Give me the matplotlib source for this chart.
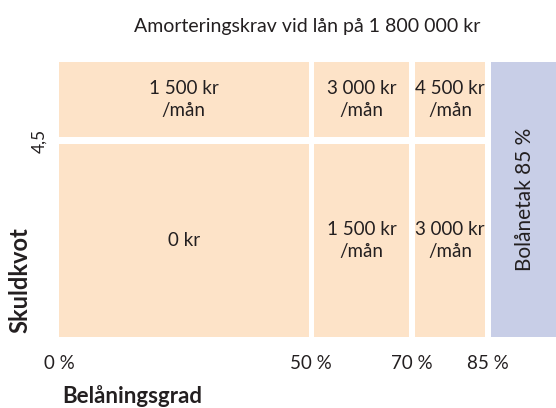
import matplotlib
matplotlib.use("Agg")
from matplotlib import pyplot as plt
from matplotlib.patches import Rectangle

plt.rcParams['font.family'] = ['Lato', 'DejaVu Sans']

# belåningsgrad-gränser (%) och skuldkvotsgräns
ltv_edges = [0, 50, 70, 85]
ltv_ticks = ['0 %', '50 %', '70 %', '85 %']
dti_limit = 4.5
dti_top = 6.3
ltv_max = 98.5

# amortering per ruta
top_labels = ['1 500 kr\n/mån', '3 000 kr\n/mån', '4 500 kr\n/mån']
bottom_labels = ['0 kr', '1 500 kr\n/mån', '3 000 kr\n/mån']
cap_label = 'Bolånetak 85 %'

peach = '#fde3c8'
blue = '#c8cee7'
txt = '#231f20'
gap_x = 0.55
gap_y = 0.08

fig = plt.figure(figsize=(5.56, 4.08), dpi=100)
ax = fig.add_axes([59/556, 71/408, (556-59)/556, 275/408])
ax.set_xlim(0, ltv_max)
ax.set_ylim(0, dti_top)

for i in range(3):
    x0 = ltv_edges[i] + (gap_x if i > 0 else 0)
    x1 = ltv_edges[i+1] - gap_x
    # undre raden
    ax.add_patch(Rectangle((x0, 0), x1 - x0, dti_limit - gap_y, fc=peach, ec='none'))
    ax.text((x0 + x1) / 2, (dti_limit - gap_y) / 2, bottom_labels[i],
            ha='center', va='center', fontsize=13.5, color=txt, linespacing=1.3)
    # övre raden
    ax.add_patch(Rectangle((x0, dti_limit + gap_y), x1 - x0, dti_top - dti_limit - gap_y,
                           fc=peach, ec='none'))
    ax.text((x0 + x1) / 2, (dti_limit + gap_y + dti_top) / 2, top_labels[i],
            ha='center', va='center', fontsize=13.5, color=txt, linespacing=1.3)

# bolånetak
bx0 = ltv_edges[-1] + gap_x
ax.add_patch(Rectangle((bx0, 0), ltv_max + 5 - bx0, dti_top, fc=blue, ec='none'))
ax.text((bx0 + ltv_max) / 2 + 0.3, dti_top / 2, cap_label, rotation=90,
        ha='center', va='center', fontsize=15, color=txt)

ax.set_xticks(ltv_edges)
ax.set_xticklabels(ltv_ticks, fontsize=13.5, color=txt)
ax.set_yticks([dti_limit])
ax.set_yticklabels(['4,5'], rotation=90, va='center', fontsize=12.5, color=txt)
ax.tick_params(axis='both', length=0)
ax.tick_params(axis='x', pad=13)
ax.tick_params(axis='y', pad=8)
for s in ax.spines.values():
    s.set_visible(False)

fig.text(307/556, 1 - 32/408, 'Amorteringskrav vid lån på 1 800 000 kr',
         ha='center', va='baseline', fontsize=14, color=txt)
fig.text(62/556, 1 - 403/408, 'Belåningsgrad', ha='left', va='baseline',
         fontsize=16, fontweight='bold', color=txt)
fig.text(31/556, 1 - 333/408, 'Skuldkvot', rotation=90, ha='right', va='bottom',
         fontsize=17, fontweight='bold', color=txt)

fig.savefig('out.png', dpi=100)
